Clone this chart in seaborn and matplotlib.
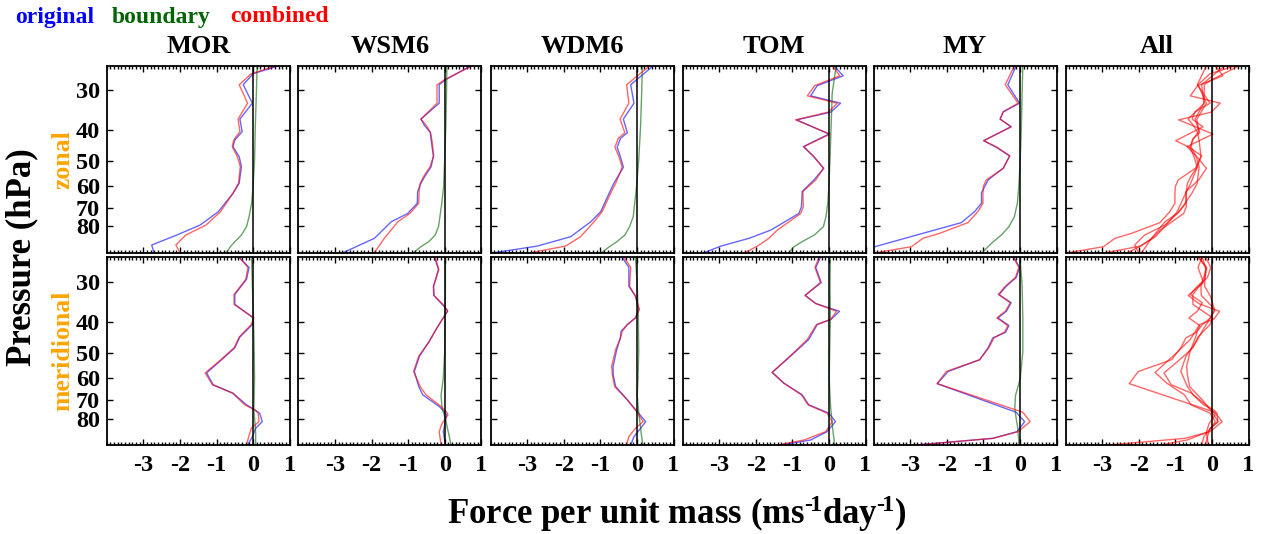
import numpy as np
import pandas as pd
import matplotlib
matplotlib.use("Agg")
import matplotlib.pyplot as plt
import seaborn as sns
from matplotlib.ticker import MultipleLocator, NullLocator, FixedLocator, FixedFormatter

sns.set_style("ticks")
plt.rcParams['font.family'] = ['Liberation Serif', 'DejaVu Serif']
plt.rcParams['font.weight'] = 'bold'
plt.rcParams['text.color'] = 'black'
plt.rcParams['axes.labelcolor'] = 'black'
plt.rcParams['xtick.color'] = 'black'
plt.rcParams['ytick.color'] = 'black'
plt.rcParams['mathtext.fontset'] = 'custom'
plt.rcParams['mathtext.rm'] = 'Liberation Serif:bold'
plt.rcParams['mathtext.it'] = 'Liberation Serif:bold'
plt.rcParams['mathtext.bf'] = 'Liberation Serif:bold'

# ---------------- data ----------------
schemes = ["MOR", "WSM6", "WDM6", "TOM", "MY"]
components = ["zonal", "meridional"]
ytick_vals = [30, 40, 50, 60, 70, 80]
xtick_vals = [-3, -2, -1, 0, 1]
xtick_labels = ["-3", "-2", "-1", "0", "1"]

# boundary (smooth) curves share these pressure levels (hPa)
bnd_p = [25.2, 30.7, 39.1, 49.6, 60.1, 67.8, 74.6, 80.2, 85.2, 89.4, 92.6, 96.7]

# ---- zonal ----
mor_zon_p = [25.2, 26.7, 28.9, 33.0, 37.0, 40.5, 43.0, 45.1, 48.5, 52.1, 58.7, 63.1, 72.0, 79.3, 85.2, 91.5, 96.7]
mor_zon_orig = [0.70, 0.0, -0.27, -0.02, -0.36, -0.30, -0.50, -0.55, -0.38, -0.32, -0.38, -0.55, -0.95, -1.45, -2.09, -2.77, -2.71]
mor_zon_comb = [0.64, -0.05, -0.38, -0.15, -0.41, -0.36, -0.53, -0.57, -0.43, -0.35, -0.40, -0.55, -0.89, -1.29, -1.84, -2.11, -2.00]
mor_zon_bnd = [0.11, 0.09, 0.06, 0.04, 0.0, -0.04, -0.11, -0.18, -0.32, -0.50, -0.62, -0.73]

wsm_zon_p = [25.2, 27.9, 28.9, 33.0, 37.0, 38.6, 40.8, 43.0, 48.2, 52.1, 56.0, 58.7, 62.3, 67.8, 72.9, 77.4, 87.2, 96.7]
wsm_zon_orig = [0.72, 0.02, -0.15, -0.15, -0.65, -0.56, -0.39, -0.37, -0.31, -0.37, -0.55, -0.65, -0.74, -0.75, -1.01, -1.46, -1.92, -2.78]
wsm_zon_comb = [0.75, -0.01, -0.21, -0.21, -0.65, -0.51, -0.39, -0.35, -0.30, -0.40, -0.58, -0.67, -0.70, -0.71, -0.95, -1.28, -1.65, -1.92]
wsm_zon_bnd = [0.06, 0.05, 0.03, 0.0, -0.03, -0.08, -0.13, -0.17, -0.26, -0.44, -0.65, -0.85]

wdm_zon_p = [25.2, 28.9, 33.0, 37.0, 40.8, 42.5, 45.3, 48.5, 52.3, 58.7, 63.1, 72.0, 77.4, 86.2, 92.2, 96.7]
wdm_zon_orig = [0.45, -0.17, -0.08, -0.37, -0.26, -0.45, -0.54, -0.45, -0.37, -0.63, -0.76, -0.99, -1.26, -1.81, -2.72, -3.90]
wdm_zon_comb = [0.35, -0.28, -0.22, -0.46, -0.33, -0.51, -0.60, -0.49, -0.40, -0.58, -0.72, -0.95, -1.17, -1.54, -1.95, -2.90]
wdm_zon_bnd = [0.15, 0.13, 0.10, 0.05, -0.01, -0.06, -0.10, -0.20, -0.33, -0.55, -0.75, -0.97]

tom_zon_p = [25.2, 27.1, 29.1, 31.3, 33.0, 35.2, 37.2, 41.2, 45.1, 48.5, 52.7, 57.3, 62.3, 69.5, 72.9, 82.2, 87.2, 92.2, 96.7]
tom_zon_orig = [0.14, 0.39, -0.32, -0.50, 0.32, 0.05, -0.88, 0.00, -0.70, -0.41, -0.14, -0.41, -0.73, -0.75, -0.82, -1.59, -2.18, -2.95, -3.41]
tom_zon_comb = [0.09, 0.30, -0.39, -0.59, 0.23, -0.02, -0.91, 0.03, -0.68, -0.41, -0.15, -0.36, -0.71, -0.70, -0.77, -1.41, -1.64, -1.95, -2.30]
tom_zon_bnd = [0.20, 0.09, 0.06, 0.03, 0.0, -0.03, -0.08, -0.15, -0.40, -0.74, -0.95, -1.09]

my_zon_p = [25.2, 28.9, 33.0, 35.1, 37.0, 39.1, 43.2, 45.3, 48.2, 52.7, 57.3, 60.1, 62.8, 67.8, 72.0, 77.9, 84.1, 87.2, 92.6, 96.7]
my_zon_orig = [-0.10, -0.33, -0.01, -0.45, -0.54, -0.24, -0.99, -0.65, -0.28, -0.46, -0.87, -0.96, -1.05, -1.05, -1.24, -1.60, -2.65, -3.14, -3.96, -4.65]
my_zon_comb = [-0.15, -0.40, -0.05, -0.46, -0.54, -0.24, -0.99, -0.62, -0.28, -0.45, -0.92, -1.00, -1.01, -1.01, -1.15, -1.42, -2.19, -2.65, -2.96, -3.92]
my_zon_bnd = [0.08, 0.06, 0.04, 0.01, -0.03, -0.07, -0.15, -0.30, -0.51, -0.73, -0.87, -1.03]

# ---- meridional ----
mor_mer_p = [25.2, 27.1, 29.5, 32.9, 35.3, 38.9, 40.8, 44.6, 48.2, 53.1, 57.7, 62.8, 66.7, 72.5, 75.2, 77.0, 81.8, 85.8, 91.1, 96.7]
mor_mer_orig = [-0.38, -0.11, -0.18, -0.50, -0.50, 0.00, -0.02, -0.36, -0.50, -0.91, -1.27, -1.09, -0.55, -0.18, 0.05, 0.18, 0.25, 0.07, -0.02, -0.15]
mor_mer_comb = [-0.38, -0.14, -0.20, -0.52, -0.52, 0.02, -0.05, -0.38, -0.52, -0.93, -1.31, -1.11, -0.56, -0.23, 0.05, 0.14, 0.16, -0.05, -0.12, -0.18]
mor_mer_bnd = [-0.04, -0.02, 0.01, 0.03, 0.04, 0.03, 0.02, 0.04, 0.06, 0.07, 0.07, 0.07]

wsm_mer_p = [25.2, 27.5, 31.0, 33.1, 35.7, 37.0, 38.4, 42.3, 46.0, 51.2, 57.1, 63.6, 67.5, 73.4, 76.1, 77.9, 82.7, 87.9, 96.7]
wsm_mer_orig = [-0.28, -0.17, -0.31, -0.30, -0.03, 0.08, -0.01, -0.24, -0.42, -0.69, -0.83, -0.71, -0.60, -0.15, -0.01, 0.05, 0.01, -0.04, 0.02]
wsm_mer_comb = [-0.26, -0.16, -0.30, -0.29, -0.01, 0.08, -0.01, -0.24, -0.42, -0.71, -0.85, -0.67, -0.51, -0.10, 0.04, 0.09, -0.07, -0.15, -0.10]
wsm_mer_bnd = [0.02, 0.02, 0.01, 0.0, -0.04, -0.10, -0.07, 0.02, 0.07, 0.11, 0.14, 0.17]

wdm_mer_p = [25.2, 27.1, 31.0, 33.3, 36.6, 38.9, 40.8, 42.8, 44.9, 48.8, 55.0, 58.4, 63.6, 70.0, 76.1, 81.8, 85.8, 91.1, 96.7]
wdm_mer_orig = [-0.40, -0.22, -0.22, -0.04, 0.05, -0.04, -0.26, -0.43, -0.45, -0.55, -0.65, -0.65, -0.58, -0.26, 0.01, 0.24, 0.10, -0.08, -0.17]
wdm_mer_comb = [-0.35, -0.17, -0.20, -0.04, 0.07, -0.04, -0.26, -0.40, -0.45, -0.58, -0.69, -0.67, -0.61, -0.26, -0.01, 0.17, -0.04, -0.22, -0.28]
wdm_mer_bnd = [-0.04, 0.01, 0.04, 0.05, 0.03, 0.01, 0.04, 0.07, 0.10, 0.12, 0.14, 0.16]

tom_mer_p = [25.2, 27.1, 30.2, 33.1, 35.1, 37.1, 39.3, 40.8, 45.4, 50.0, 57.5, 62.1, 67.5, 72.5, 77.0, 81.8, 87.9, 93.3, 96.7]
tom_mer_orig = [-0.23, -0.36, -0.21, -0.65, -0.36, 0.29, 0.06, -0.32, -0.55, -0.95, -1.55, -1.23, -0.73, -0.55, 0.00, 0.18, -0.05, -0.50, -1.32]
tom_mer_comb = [-0.27, -0.38, -0.23, -0.65, -0.36, 0.21, 0.05, -0.34, -0.59, -0.97, -1.55, -1.23, -0.75, -0.57, -0.05, 0.09, -0.09, -0.68, -1.41]
tom_mer_bnd = [0.04, 0.03, 0.04, 0.02, 0.01, 0.03, 0.05, 0.08, 0.10, 0.12, 0.14, 0.15]

my_mer_p = [25.2, 27.1, 29.1, 31.0, 32.9, 34.9, 37.1, 38.9, 41.1, 43.1, 44.9, 48.2, 52.5, 57.1, 62.3, 76.5, 81.8, 87.9, 92.2, 96.7]
my_mer_orig = [-0.17, -0.01, -0.10, -0.37, -0.57, -0.24, -0.37, -0.60, -0.30, -0.39, -0.74, -0.87, -1.10, -1.96, -2.26, -0.10, 0.13, -0.08, -0.74, -2.83]
my_mer_comb = [-0.17, -0.03, -0.12, -0.40, -0.59, -0.26, -0.40, -0.63, -0.33, -0.42, -0.71, -0.85, -1.10, -2.01, -2.26, 0.08, 0.28, -0.05, -0.74, -2.83]
my_mer_bnd = [0.0, 0.06, 0.08, 0.08, 0.01, -0.12, -0.14, -0.10, -0.06, -0.05, -0.03, -0.03]

panels = {
    ("MOR", "zonal"): (mor_zon_p, mor_zon_orig, mor_zon_comb, mor_zon_bnd),
    ("WSM6", "zonal"): (wsm_zon_p, wsm_zon_orig, wsm_zon_comb, wsm_zon_bnd),
    ("WDM6", "zonal"): (wdm_zon_p, wdm_zon_orig, wdm_zon_comb, wdm_zon_bnd),
    ("TOM", "zonal"): (tom_zon_p, tom_zon_orig, tom_zon_comb, tom_zon_bnd),
    ("MY", "zonal"): (my_zon_p, my_zon_orig, my_zon_comb, my_zon_bnd),
    ("MOR", "meridional"): (mor_mer_p, mor_mer_orig, mor_mer_comb, mor_mer_bnd),
    ("WSM6", "meridional"): (wsm_mer_p, wsm_mer_orig, wsm_mer_comb, wsm_mer_bnd),
    ("WDM6", "meridional"): (wdm_mer_p, wdm_mer_orig, wdm_mer_comb, wdm_mer_bnd),
    ("TOM", "meridional"): (tom_mer_p, tom_mer_orig, tom_mer_comb, tom_mer_bnd),
    ("MY", "meridional"): (my_mer_p, my_mer_orig, my_mer_comb, my_mer_bnd),
}

# ---------------- style ----------------
C_ORIG = "#0000ff"
C_BND = "#006400"
C_COMB = "#ff0000"
LW = 1.0
ALPHA = 0.6

W, H = 1265, 534
fig = plt.figure(figsize=(W / 100, H / 100), dpi=100)

col_left = [106.7, 298.3, 490.5, 682.5, 873.5, 1065.5]
col_w = 183.0
row_top = [65.7, 257.3]
row_h = [187.0, 187.7]


def style_axis(ax, r, c):
    ax.set_xlim(-4, 1)
    ax.set_yscale("log")
    ax.set_ylim(96.7, 25.2)
    ax.yaxis.set_major_locator(FixedLocator(ytick_vals))
    ax.yaxis.set_minor_locator(NullLocator())
    if c == 0:
        ax.yaxis.set_major_formatter(FixedFormatter([str(v) for v in ytick_vals]))
    else:
        ax.yaxis.set_major_formatter(FixedFormatter([""] * len(ytick_vals)))
    ax.xaxis.set_major_locator(FixedLocator(xtick_vals))
    ax.xaxis.set_minor_locator(MultipleLocator(0.1))
    if r == 1:
        ax.xaxis.set_major_formatter(FixedFormatter(xtick_labels))
    else:
        ax.xaxis.set_major_formatter(FixedFormatter([""] * len(xtick_vals)))
    ax.tick_params(which="both", direction="in", top=True, right=True,
                   bottom=True, left=True, width=1.0, colors="black",
                   labelcolor="black")
    ax.tick_params(which="major", length=4, labelsize=17.5)
    ax.tick_params(axis="y", which="major", pad=5)
    ax.tick_params(axis="x", which="major", pad=7)
    ax.tick_params(which="minor", length=2)
    for lab in ax.get_xticklabels() + ax.get_yticklabels():
        lab.set_fontweight("bold")
    for sp in ax.spines.values():
        sp.set_linewidth(1.3)
        sp.set_color("black")
    ax.set_xlabel("")
    ax.set_ylabel("")


for r, comp in enumerate(components):
    for c in range(6):
        bottom = 1 - (row_top[r] + row_h[r]) / H
        ax = fig.add_axes([col_left[c] / W, bottom, col_w / W, row_h[r] / H])
        if c < 5:
            s = schemes[c]
            p, orig, comb, bnd = panels[(s, comp)]
            sns.lineplot(x=orig, y=p, sort=False, estimator=None, ax=ax,
                         color=C_ORIG, lw=LW, alpha=ALPHA, legend=False)
            sns.lineplot(x=bnd, y=bnd_p, sort=False, estimator=None, ax=ax,
                         color=C_BND, lw=LW, alpha=ALPHA, legend=False)
            sns.lineplot(x=comb, y=p, sort=False, estimator=None, ax=ax,
                         color=C_COMB, lw=LW, alpha=ALPHA, legend=False)
            title = s
        else:
            for s in schemes:
                p, orig, comb, bnd = panels[(s, comp)]
                sns.lineplot(x=comb, y=p, sort=False, estimator=None, ax=ax,
                             color=C_COMB, lw=LW, alpha=ALPHA, legend=False)
            title = "All"
        ax.axvline(0, color="black", lw=1.1)
        style_axis(ax, r, c)
        if r == 0:
            ax.set_title(title, fontsize=19, fontweight="bold", pad=9, color="black")

# legend-like colored words
fig.text(15 / W, 1 - 17 / H, "original", color=C_ORIG, fontsize=17, fontweight="bold", va="center")
fig.text(112 / W, 1 - 17 / H, "boundary", color=C_BND, fontsize=17, fontweight="bold", va="center")
fig.text(230 / W, 1 - 17 / H, "combined", color=C_COMB, fontsize=17, fontweight="bold", va="center")

# component labels
for r, comp in enumerate(components):
    yc = 1 - (row_top[r] + row_h[r] / 2) / H
    fig.text(63 / W, yc, comp, color="#ffa500", fontsize=18.5, fontweight="bold",
             rotation=90, ha="center", va="center")

fig.text(22 / W, 1 - 257 / H, "Pressure (hPa)", fontsize=25, fontweight="bold",
         rotation=90, ha="center", va="center", color="black")
fig.text(677 / W, 1 - 514 / H,
         "Force per unit mass (ms$^{\u2010\\!1}$day$^{\u2010\\!1}$)",
         fontsize=25, fontweight="bold", ha="center", va="center", color="black")

fig.savefig("out.png", dpi=100)
